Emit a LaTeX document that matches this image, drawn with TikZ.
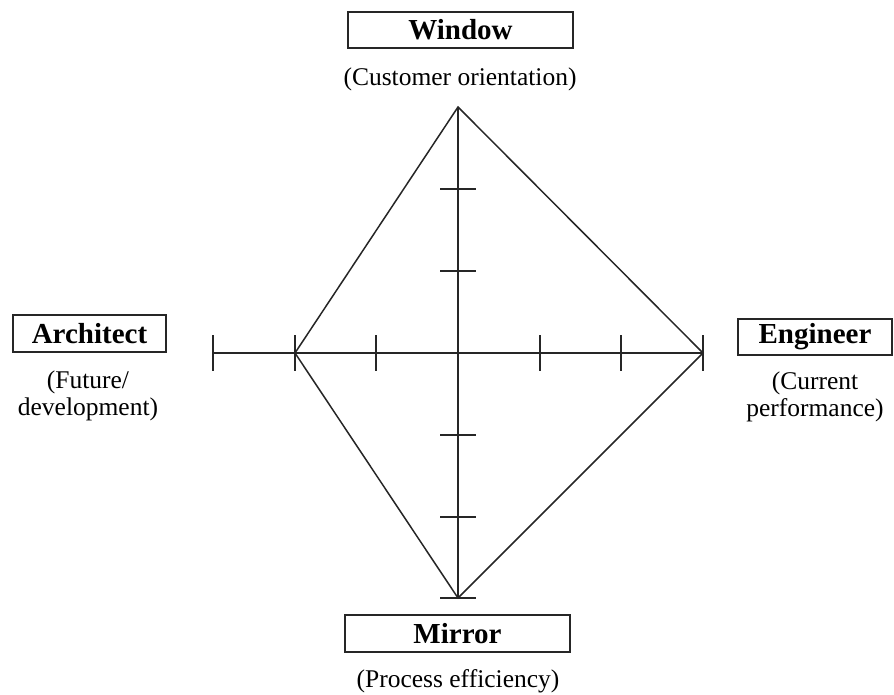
\documentclass[tikz,border=0pt]{standalone}
\usepackage{fontspec}
\setmainfont{Liberation Serif}
\begin{document}
\begin{tikzpicture}[x=1pt,y=-1pt,
  ln/.style={line width=1.5pt,draw=black!85},
  titlebox/.style={draw=black!85,line width=1.3pt,font=\fontsize{29}{30}\selectfont\bfseries,inner sep=0pt,anchor=center},
  sub/.style={font=\fontsize{25.5}{26.5}\selectfont,align=center,inner sep=0pt,anchor=center}]
\useasboundingbox (0,0) rectangle (894,695);
% axis points
\coordinate (C) at (458,353);
\coordinate (T) at (458,107);
\coordinate (B) at (458,598);
\coordinate (L) at (213,353);
\coordinate (R) at (703,353);
\coordinate (D) at (295,353);
% axes
\draw[ln] (T) -- (B);
\draw[ln] (L) -- (R);
% ticks horizontal axis
\foreach \x in {213,295,376,540,621,703}
  \draw[ln] (\x,335) -- (\x,371);
% ticks vertical axis
\foreach \y in {189,271,435,517,598}
  \draw[ln] (440,\y) -- (476,\y);
% diamond
\draw[ln,line join=miter] (T) -- (R) -- (B) -- (D) -- cycle;
% labels
\node[titlebox,minimum width=225pt,minimum height=36pt] (win) at (460.5,30) {Window};
\node[sub] (wins) at (460,79) {(Customer orientation)};
\node[titlebox,minimum width=153pt,minimum height=37pt] (arch) at (89.5,333.5) {Architect};
\node[sub] (archs) at (88,396) {(Future/\\development)};
\node[titlebox,minimum width=154pt,minimum height=36pt] (eng) at (815,337) {Engineer};
\node[sub] (engs) at (815,397) {(Current\\performance)};
\node[titlebox,minimum width=225pt,minimum height=37pt] (mir) at (457.5,633.5) {Mirror};
\node[sub] (mirs) at (458,681) {(Process efficiency)};
\end{tikzpicture}
\end{document}
